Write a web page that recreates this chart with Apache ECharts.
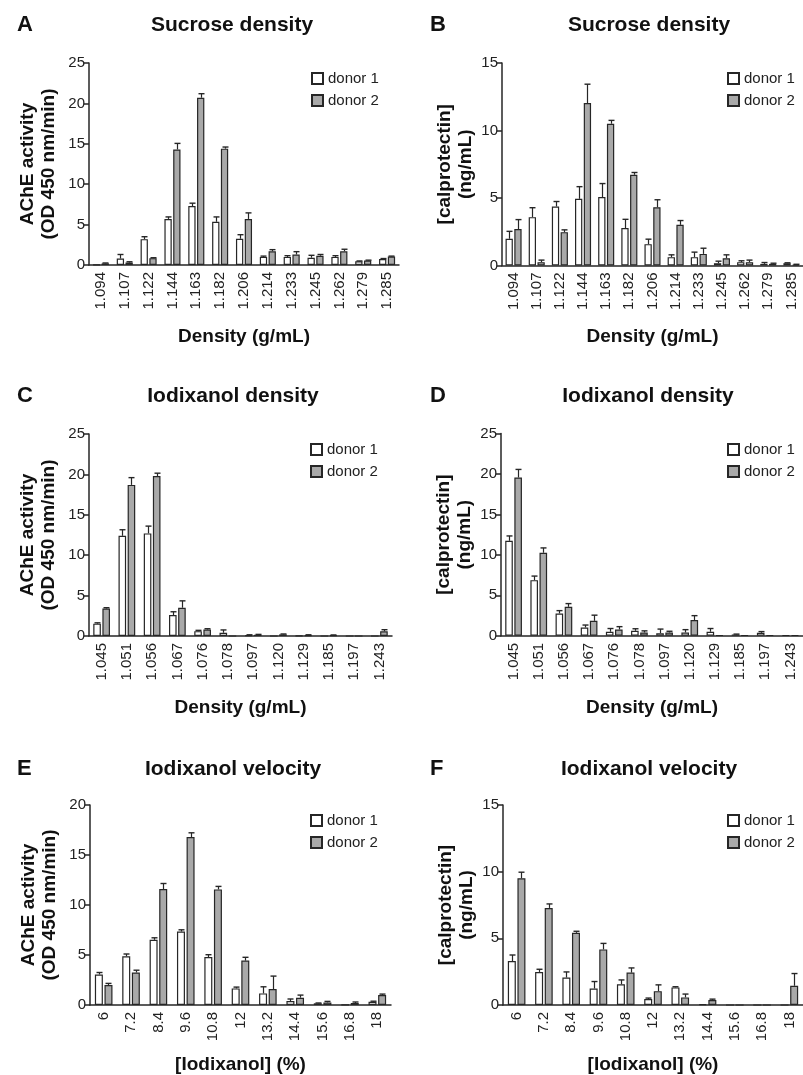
<!DOCTYPE html>
<html>
<head>
<meta charset="utf-8">
<script src="https://cdn.jsdelivr.net/npm/echarts@6/dist/echarts.min.js"></script>
<style>
html,body{margin:0;padding:0;background:#fff;}
#chart{width:803px;height:1075px;}
</style>
</head>
<body>
<div id="chart"></div>
<script>
// ---------- data ----------
const catSucrose = ['1.094','1.107','1.122','1.144','1.163','1.182','1.206','1.214','1.233','1.245','1.262','1.279','1.285'];
const catIodDens = ['1.045','1.051','1.056','1.067','1.076','1.078','1.097','1.120','1.129','1.185','1.197','1.243'];
const catIodVel  = ['6','7.2','8.4','9.6','10.8','12','13.2','14.4','15.6','16.8','18'];

// A: Sucrose density, AChE
const A_d1  = [0.05,0.8,3.2,5.7,7.3,5.35,3.25,1.0,1.0,0.9,1.0,0.45,0.75];
const A_d1e = [0,0.5,0.3,0.25,0.35,0.6,0.5,0.1,0.15,0.3,0.15,0.05,0.05];
const A_d2  = [0.2,0.3,0.85,14.3,20.7,14.4,5.7,1.7,1.3,1.15,1.7,0.55,1.05];
const A_d2e = [0.05,0.1,0.05,0.75,0.5,0.2,0.75,0.2,0.35,0.15,0.25,0.05,0.05];

// B: Sucrose density, calprotectin
const B_d1  = [1.98,3.58,4.37,4.94,5.07,2.77,1.58,0.62,0.62,0.17,0.25,0.12,0.17];
const B_d1e = [0.55,0.7,0.37,0.9,1.0,0.65,0.37,0.17,0.37,0.15,0.1,0.1,0.03];
const B_d2  = [2.7,0.25,2.47,12.03,10.5,6.72,4.32,3.01,0.86,0.54,0.25,0.12,0.07];
const B_d2e = [0.7,0.15,0.17,1.4,0.25,0.17,0.55,0.32,0.42,0.25,0.15,0.05,0.02];

// C: Iodixanol density, AChE
const C_d1  = [1.53,12.4,12.7,2.6,0.6,0.4,0.1,0,0.05,0,0,0];
const C_d1e = [0.1,0.75,0.9,0.4,0.1,0.35,0.05,0,0,0,0,0];
const C_d2  = [3.4,18.7,19.8,3.5,0.8,0,0.15,0.2,0.1,0.1,0,0.58];
const C_d2e = [0.1,0.9,0.35,0.85,0.1,0,0.05,0.05,0.05,0.03,0,0.2];

// D: Iodixanol density, calprotectin
const D_d1  = [11.74,6.88,2.76,1.03,0.5,0.62,0.33,0.41,0.5,0.16,0.37,0.08];
const D_d1e = [0.6,0.5,0.35,0.3,0.4,0.25,0.5,0.35,0.4,0.05,0.15,0];
const D_d2  = [19.56,10.26,3.58,1.85,0.78,0.41,0.41,1.94,0.08,0.08,0.08,0.08];
const D_d2e = [1.0,0.6,0.4,0.7,0.35,0.2,0.15,0.55,0,0,0,0];

// E: Iodixanol velocity, AChE
const E_d1  = [3.05,4.87,6.52,7.35,4.8,1.66,1.16,0.4,0.17,0.03,0.33];
const E_d1e = [0.2,0.23,0.2,0.17,0.23,0.13,0.66,0.2,0.03,0,0.05];
const E_d2  = [1.99,3.25,11.59,16.79,11.56,4.44,1.59,0.73,0.26,0.2,0.99];
const E_d2e = [0.17,0.23,0.56,0.43,0.3,0.33,1.3,0.26,0.1,0.1,0.1];

// F: Iodixanol velocity, calprotectin
const F_d1  = [3.3,2.48,2.06,1.24,1.56,0.45,1.32,0.07,0,0,0];
const F_d1e = [0.45,0.2,0.42,0.52,0.32,0.07,0.05,0,0,0,0];
const F_d2  = [9.51,7.28,5.41,4.17,2.43,1.04,0.57,0.37,0,0,1.44];
const F_d2e = [0.45,0.3,0.12,0.45,0.35,0.47,0.25,0.07,0,0,0.92];

const letters = ['A','B','C','D','E','F'];
const titles = ['Sucrose density','Sucrose density','Iodixanol density','Iodixanol density','Iodixanol velocity','Iodixanol velocity'];
const yNames = ['AChE activity\n(OD 450 nm/min)','[calprotectin]\n(ng/mL)','AChE activity\n(OD 450 nm/min)','[calprotectin]\n(ng/mL)','AChE activity\n(OD 450 nm/min)','[calprotectin]\n(ng/mL)'];
const xNames = ['Density (g/mL)','Density (g/mL)','Density (g/mL)','Density (g/mL)','[Iodixanol] (%)','[Iodixanol] (%)'];
const yMax = [25,15,25,25,20,15];
const yStep = [5,5,5,5,5,5];

// ---------- layout ----------
const FONT = '"Liberation Sans", Arial, Helvetica, sans-serif';
const INK = '#262626';
const GRAY = '#a9a9a9';
const panels = [
  {cats:catSucrose, d1:A_d1, d1e:A_d1e, d2:A_d2, d2e:A_d2e, left:89,  top:63,  width:310, height:202, bw:7.3, yGap:30, xGap:62, lx:17,  ly:25,  tx:232, legL:311, legT:71},
  {cats:catSucrose, d1:B_d1, d1e:B_d1e, d2:B_d2, d2e:B_d2e, left:502, top:63,  width:307, height:202.5, bw:7.3, yGap:26, xGap:62, lx:430, ly:25, tx:649, legL:727, legT:71},
  {cats:catIodDens, d1:C_d1, d1e:C_d1e, d2:C_d2, d2e:C_d2e, left:89,  top:434, width:303, height:202, bw:7.6, yGap:30, xGap:62, lx:17,  ly:396, tx:233, legL:310, legT:442},
  {cats:catIodDens, d1:D_d1, d1e:D_d1e, d2:D_d2, d2e:D_d2e, left:501, top:433.5, width:304, height:202.3, bw:7.6, yGap:26, xGap:62, lx:430, ly:396, tx:648, legL:727, legT:442},
  {cats:catIodVel,  d1:E_d1, d1e:E_d1e, d2:E_d2, d2e:E_d2e, left:90,  top:805, width:301, height:201.5, bw:8, yGap:30, xGap:50, lx:17,  ly:769, tx:233, legL:310, legT:813},
  {cats:catIodVel,  d1:F_d1, d1e:F_d1e, d2:F_d2, d2e:F_d2e, left:503, top:805, width:302, height:201, bw:8, yGap:26, xGap:50, lx:430, ly:769, tx:649, legL:727, legT:813}
];

const grid=[], xAxis=[], yAxis=[], series=[], legend=[], graphic=[];
const GAP = 0.2;

function errSeries(i, vals, errs, sign, bw){
  const data = vals.map((v,k)=>[k, v, errs[k]]);
  return {
    type:'custom', xAxisIndex:i, yAxisIndex:i, z:3, silent:true,
    data: data,
    renderItem: function(params, api){
      const e = api.value(2);
      if(!(e>0)) return null;
      const k = api.value(0), v = api.value(1);
      const p0 = api.coord([k, v]);
      const p1 = api.coord([k, v+e]);
      const x = Math.round(p0[0] + sign*bw*(1+GAP)/2) + 0.5;
      const cap = 3;
      return {type:'group', children:[
        {type:'line', shape:{x1:x, y1:p0[1], x2:x, y2:p1[1]}, style:{stroke:INK, lineWidth:1.2}},
        {type:'line', shape:{x1:x-cap, y1:p1[1], x2:x+cap, y2:p1[1]}, style:{stroke:INK, lineWidth:1.4}}
      ]};
    }
  };
}

panels.forEach((p,i)=>{
  grid.push({left:p.left, top:p.top, width:p.width, height:p.height, containLabel:false});
  xAxis.push({
    type:'category', gridIndex:i, data:p.cats,
    axisLine:{lineStyle:{color:INK, width:1.5}},
    axisTick:{show:false},
    axisLabel:{rotate:90, margin:7, color:'#222', fontFamily:FONT, fontSize:15},
    name:xNames[i], nameLocation:'middle', nameGap:p.xGap,
    nameTextStyle:{fontFamily:FONT, fontSize:19, fontWeight:'bold', color:'#111'}
  });
  yAxis.push({
    type:'value', gridIndex:i, min:0, max:yMax[i], interval:yStep[i],
    splitLine:{show:false},
    axisLine:{show:true, lineStyle:{color:INK, width:1.5}},
    axisTick:{show:true, length:5, lineStyle:{color:INK, width:1.5}},
    axisLabel:{margin:4, color:'#222', fontFamily:FONT, fontSize:15},
    name:yNames[i], nameLocation:'middle', nameGap:p.yGap, nameRotate:90,
    nameTextStyle:{fontFamily:FONT, fontSize:19, fontWeight:'bold', color:'#111', lineHeight:21}
  });
  series.push({
    type:'bar', name:'donor 1', xAxisIndex:i, yAxisIndex:i, data:p.d1,
    barWidth:p.bw, barGap:(GAP*100)+'%',
    itemStyle:{color:'#ffffff', borderColor:INK, borderWidth:1.2}
  });
  series.push({
    type:'bar', name:'donor 2', xAxisIndex:i, yAxisIndex:i, data:p.d2,
    barWidth:p.bw, barGap:(GAP*100)+'%',
    itemStyle:{color:GRAY, borderColor:INK, borderWidth:1.2}
  });
  series.push(errSeries(i, p.d1, p.d1e, -1, p.bw));
  series.push(errSeries(i, p.d2, p.d2e, 1, p.bw));
  legend.push({
    data:['donor 1','donor 2'], orient:'vertical', left:p.legL, top:p.legT, padding:0,
    icon:'rect', itemWidth:11, itemHeight:11, itemGap:7,
    textStyle:{fontFamily:FONT, fontSize:15, color:'#222'},
    selectedMode:false
  });
  graphic.push({type:'text', left:p.lx, top:p.ly-11, style:{text:letters[i], font:'bold 22px '+FONT, fill:'#111'}});
  graphic.push({type:'text', x:p.tx, y:p.ly, style:{text:titles[i], font:'bold 21px '+FONT, fill:'#111', textAlign:'center', textVerticalAlign:'middle'}});
});

const chart = echarts.init(document.getElementById('chart'), null, {renderer:'canvas'});
chart.setOption({
  animation:false,
  backgroundColor:'#ffffff',
  grid, xAxis, yAxis, series, legend, graphic
});
</script>
</body>
</html>
